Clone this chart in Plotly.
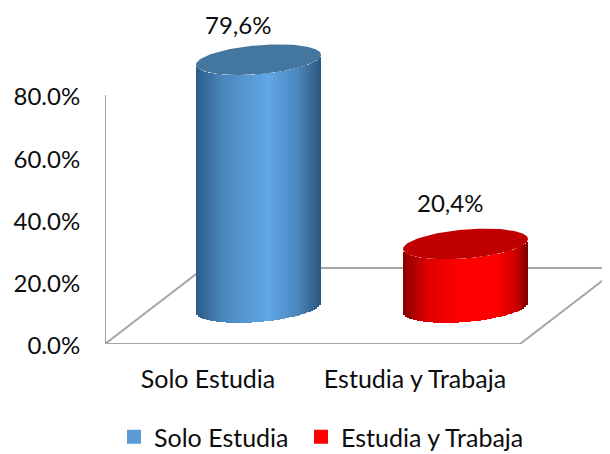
import numpy as np
import plotly.graph_objects as go

categories = ['Solo Estudia', 'Estudia y Trabaja']
values = [79.6, 20.4]
value_labels = ['79,6%', '20,4%']
y_ticks = [0, 20, 40, 60, 80]
y_tick_labels = ['0.0%', '20.0%', '40.0%', '60.0%', '80.0%']

FONT = 'Lato'
GREY = '#A6A6A6'
TEXT = '#0D0D0D'

# page has an 8px body margin, so the figure is 8px smaller than the window
WIDTH = 602
HEIGHT = 446

# pixels per axis unit
PX_X = 207
PX_Y = 249 / 80

# the fake 3d floor
DEPTH_X = 99 / PX_X
DEPTH_Y = 76 / PX_Y

# cylinder shape
CENTER_OFFSET = 50.5 / PX_X
HALF_W = 62.5 / PX_X
ELL_H = 14.5 / PX_Y
TILT = 5 / PX_Y
BASE = (344 - 307.5) / PX_Y

# shading, position across the cylinder -> colour
blue_stops = [(-1, '#2C5A86'), (-0.6, '#4A86BC'), (0, '#5C9FDD'), (0.15, '#62A7E9'), (0.6, '#4E8AC0'), (1, '#2B587E')]
red_stops = [(-1, '#8A0000'), (-0.6, '#E00000'), (-0.1, '#FF0000'), (0.5, '#FF0000'), (0.8, '#D00000'), (1, '#7A0000')]
top_colors = ['#44779F', '#C00000']
legend_colors = ['#5B9BD5', '#FF0000']
legend_ids = ['legend', 'legend2']


def hex_rgb(c):
    return [int(c[i:i + 2], 16) for i in (1, 3, 5)]


def shade(t, stops):
    pos = [s[0] for s in stops]
    rgb = np.array([hex_rgb(s[1]) for s in stops])
    return 'rgb(%d,%d,%d)' % tuple(np.interp(t, pos, rgb[:, i]) for i in range(3))


fig = go.Figure()

for i, (name, val, stops) in enumerate(zip(categories, values, [blue_stops, red_stops])):
    cx = i + CENTER_OFFSET
    # side of the cylinder, thin vertical strips
    t = (np.arange(63) + 0.5) / 63 * 2 - 1
    fig.add_trace(go.Bar(
        x=cx + t * HALF_W, y=[val] * len(t),
        base=BASE + TILT * t - ELL_H * np.sqrt(1 - t ** 2),
        width=2.4 * HALF_W / len(t),
        marker=dict(color=[shade(v, stops) for v in t], line_width=0),
        showlegend=False, hoverinfo='skip'))
    # top cap
    a = np.linspace(0, 2 * np.pi, 121)
    fig.add_trace(go.Scatter(
        x=cx + HALF_W * np.cos(a),
        y=BASE + val + TILT * np.cos(a) + ELL_H * np.sin(a),
        mode='lines', line=dict(width=0), fill='toself', fillcolor=top_colors[i],
        showlegend=False, hoverinfo='skip'))
    # legend entry, one legend each so the gap between them can be set
    fig.add_trace(go.Scatter(
        x=[None], y=[None], mode='markers', name=name, legend=legend_ids[i], showlegend=True,
        marker=dict(symbol='square', size=14, color=legend_colors[i])))

# floor and back wall line, behind the cylinders
x0 = -103 / PX_X
x1 = x0 + 415 / PX_X
fig.add_shape(type='path', layer='below', line=dict(color=GREY, width=2),
              path=f'M {x0} 0 L {x1} 0 L {x1 + DEPTH_X} {DEPTH_Y} L {x0 + DEPTH_X} {DEPTH_Y} Z')
fig.add_shape(type='line', layer='below', line=dict(color=GREY, width=2),
              x0=x0, x1=x0, y0=0, y1=y_ticks[-1])

label_shift = [(-21, 35), (-16, 42)]
for i, (val, txt) in enumerate(zip(values, value_labels)):
    fig.add_annotation(x=i + CENTER_OFFSET, y=BASE + val, text=txt, showarrow=False,
                       xshift=label_shift[i][0], yshift=label_shift[i][1],
                       font=dict(family=FONT, size=24, color=TEXT))

fig.update_xaxes(range=[x0, x0 + 505 / PX_X], tickmode='array', tickvals=[0, 1], ticktext=categories,
                 showgrid=False, zeroline=False, showline=False,
                 ticks='outside', ticklen=13, tickcolor='rgba(0,0,0,0)',
                 tickfont=dict(family=FONT, size=25, color=TEXT))
fig.update_yaxes(range=[0, 336 / PX_Y], tickmode='array', tickvals=y_ticks, ticktext=y_tick_labels,
                 showgrid=False, zeroline=False, showline=False,
                 ticks='outside', ticklen=19, tickcolor='rgba(0,0,0,0)', ticklabelshift=2,
                 tickfont=dict(family=FONT, size=24, color=TEXT))

legend_font = dict(family=FONT, size=25, color=TEXT)
legend_y = 1 - 406 / HEIGHT
fig.update_layout(
    width=WIDTH, height=HEIGHT,
    margin=dict(l=97, r=0, t=0, b=110),
    paper_bgcolor='white', plot_bgcolor='white',
    barmode='overlay', bargap=0,
    hovermode=False,
    legend=dict(orientation='h', xref='container', x=106 / WIDTH, xanchor='left',
                yref='container', y=legend_y, yanchor='top', font=legend_font),
    legend2=dict(orientation='h', xref='container', x=293 / WIDTH, xanchor='left',
                 yref='container', y=legend_y, yanchor='top', font=legend_font),
)

fig.write_html('out.html')
